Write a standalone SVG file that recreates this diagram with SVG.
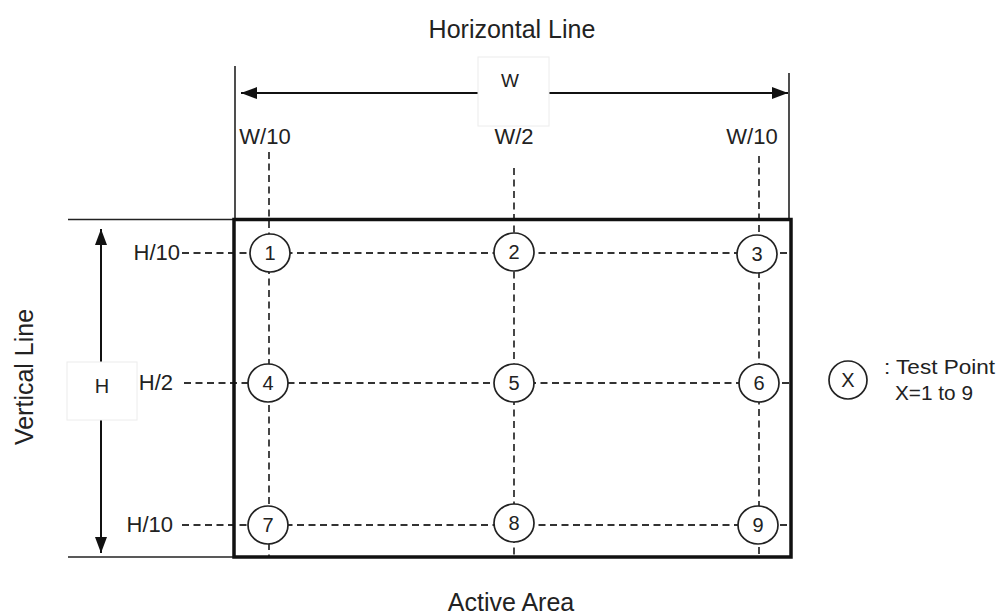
<svg xmlns="http://www.w3.org/2000/svg" width="998" height="615" viewBox="0 0 998 615">
<defs>
<style>
text{font-family:"Liberation Sans",Arial,sans-serif;fill:#222}
.big{font-size:25px}
.lbl{font-size:22px}
.num{font-size:20px;text-anchor:middle}
.ext{stroke:#222;stroke-width:1.6;fill:none}
.dash{stroke:#333;stroke-width:1.8;stroke-dasharray:7 4.5;fill:none}
.tp{fill:#fff;stroke:#222;stroke-width:1.7}
.box{fill:#fff;stroke:#ececec;stroke-width:1}
</style>
<marker id="ah2" viewBox="0 0 16 12" refX="16" refY="6" markerWidth="16" markerHeight="12" markerUnits="userSpaceOnUse" orient="auto-start-reverse">
<path d="M0,0 L16,6 L0,12 z" fill="#111"/>
</marker>
</defs>
<rect width="998" height="615" fill="#fff"/>

<g id="titles">
<text class="big" x="512" y="38" text-anchor="middle">Horizontal Line</text>
<text class="big" x="511" y="611" text-anchor="middle">Active Area</text>
<text class="big" transform="translate(33,377) rotate(-90)" text-anchor="middle">Vertical Line</text>
</g>

<g id="connectors">
<line class="ext" x1="235" y1="66" x2="235" y2="219"/>
<line class="ext" x1="789" y1="73" x2="789" y2="219"/>
<line class="ext" x1="68" y1="219.5" x2="234" y2="219.5"/>
<line class="ext" x1="68" y1="557" x2="234" y2="557"/>
<line x1="241" y1="93" x2="788" y2="93" stroke="#111" stroke-width="2" marker-start="url(#ah2)" marker-end="url(#ah2)"/>
<line x1="101" y1="229" x2="101" y2="553" stroke="#111" stroke-width="2" marker-start="url(#ah2)" marker-end="url(#ah2)"/>
<line class="dash" x1="269" y1="152" x2="269" y2="557"/>
<line class="dash" x1="514" y1="168" x2="514" y2="557"/>
<line class="dash" x1="759" y1="156" x2="759" y2="557"/>
<line class="dash" x1="182" y1="253" x2="792" y2="253"/>
<line class="dash" x1="184" y1="383" x2="792" y2="383"/>
<line class="dash" x1="182" y1="525" x2="792" y2="525"/>
</g>

<g id="active-area">
<rect x="234" y="219.5" width="557" height="337.5" fill="none" stroke="#111" stroke-width="3.5"/>
</g>

<g id="w-label">
<rect class="box" x="478" y="57" width="71" height="69"/>
<text x="510" y="87" font-size="19" text-anchor="middle">W</text>
</g>
<g id="h-label">
<rect class="box" x="67" y="362" width="70" height="58"/>
<text x="102" y="393" font-size="20" text-anchor="middle">H</text>
</g>

<g id="col-labels">
<text class="lbl" x="265" y="144" text-anchor="middle">W/10</text>
<text class="lbl" x="514" y="144" text-anchor="middle">W/2</text>
<text class="lbl" x="752" y="144" text-anchor="middle">W/10</text>
</g>
<g id="row-labels">
<text class="lbl" x="180" y="260" text-anchor="end">H/10</text>
<text class="lbl" x="173" y="390" text-anchor="end">H/2</text>
<text class="lbl" x="173" y="532" text-anchor="end">H/10</text>
</g>

<g id="p1"><ellipse class="tp" cx="270" cy="253" rx="20" ry="19"/><text class="num" x="270" y="260">1</text></g>
<g id="p2"><ellipse class="tp" cx="514" cy="252" rx="20" ry="19"/><text class="num" x="514" y="259">2</text></g>
<g id="p3"><ellipse class="tp" cx="757" cy="254" rx="20" ry="19"/><text class="num" x="757" y="261">3</text></g>
<g id="p4"><ellipse class="tp" cx="268" cy="383" rx="20" ry="19"/><text class="num" x="268" y="390">4</text></g>
<g id="p5"><ellipse class="tp" cx="514" cy="383" rx="20" ry="19"/><text class="num" x="514" y="390">5</text></g>
<g id="p6"><ellipse class="tp" cx="759" cy="383" rx="20" ry="19"/><text class="num" x="759" y="390">6</text></g>
<g id="p7"><ellipse class="tp" cx="268" cy="525" rx="20" ry="19"/><text class="num" x="268" y="532">7</text></g>
<g id="p8"><ellipse class="tp" cx="514" cy="523" rx="20" ry="19"/><text class="num" x="514" y="530">8</text></g>
<g id="p9"><ellipse class="tp" cx="758" cy="525" rx="20" ry="19"/><text class="num" x="758" y="532">9</text></g>

<g id="legend">
<ellipse class="tp" cx="848" cy="380" rx="19" ry="19"/>
<text class="num" x="848" y="387">X</text>
<text x="884" y="374" font-size="20" textLength="111" lengthAdjust="spacingAndGlyphs">: Test Point</text>
<text x="895" y="400" font-size="20" textLength="78" lengthAdjust="spacingAndGlyphs">X=1 to 9</text>
</g>
</svg>
